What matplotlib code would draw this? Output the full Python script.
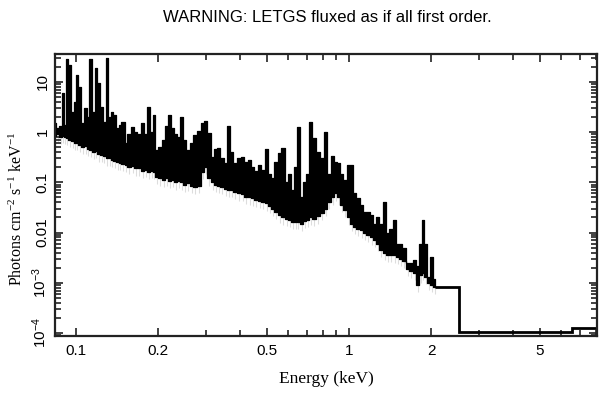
import matplotlib
matplotlib.use("Agg")
import matplotlib.pyplot as plt
from matplotlib.ticker import FixedLocator, FixedFormatter, NullFormatter

# bin energies (keV) of the dense LETGS part and the top / bottom of the trace
energy = [0.0838, 0.0859, 0.0881, 0.0896, 0.0911, 0.0927, 0.0951, 0.0975, 0.0992, 0.1009,
          0.1034, 0.1061, 0.1088, 0.1106, 0.1135, 0.1164, 0.1184, 0.1214, 0.1245, 0.1267,
          0.1299, 0.1332, 0.1355, 0.1390, 0.1425, 0.1449, 0.1487, 0.1525, 0.1563, 0.1617,
          0.1659, 0.1701, 0.1759, 0.1805, 0.1851, 0.1898, 0.1931, 0.1980, 0.2031, 0.2101,
          0.2154, 0.2210, 0.2266, 0.2324, 0.2384, 0.2445, 0.2507, 0.2572, 0.2660, 0.2728,
          0.2822, 0.2919, 0.2994, 0.3070, 0.3176, 0.3257, 0.3340, 0.3426, 0.3543, 0.3634,
          0.3727, 0.3823, 0.3954, 0.4090, 0.4195, 0.4339, 0.4450, 0.4564, 0.4721, 0.4842,
          0.5008, 0.5136, 0.5268, 0.5403, 0.5588, 0.5731, 0.5928, 0.6080, 0.6236, 0.6396,
          0.6505, 0.6728, 0.6900, 0.7077, 0.7259, 0.7445, 0.7700, 0.7964, 0.8236, 0.8447,
          0.8738, 0.8962, 0.9192, 0.9427, 0.9668, 1.0000, 1.0256, 1.0519, 1.0788, 1.1160,
          1.1445, 1.1739, 1.2140, 1.2451, 1.2770, 1.3097, 1.3547, 1.3894, 1.4250, 1.4740,
          1.5117, 1.5504, 1.5901, 1.6447, 1.6869, 1.7449, 1.7895, 1.8353, 1.8666, 1.9144,
          1.9634, 2.0137, 2.0654]
flux_hi = [1.5, 1.2, 1.3, 6.0, 1.4, 28, 22, 2.5, 4.0, 14,
           8.0, 1.5, 3.0, 2.0, 28, 2.5, 19, 9.5, 3.1, 1.6,
           30, 2.0, 2.5, 2.2, 1.2, 1.4, 1.6, 0.6, 0.9, 1.27,
           1.0, 0.9, 1.5, 0.9, 3.1, 1.0, 2.2, 0.44, 0.5, 0.7,
           1.3, 2.2, 1.2, 0.9, 0.8, 2.0, 0.7, 0.44, 0.6, 0.87,
           1.05, 1.5, 1.65, 0.95, 0.32, 0.46, 0.48, 0.3, 0.24, 1.3,
           0.4, 0.24, 0.3, 0.32, 0.25, 0.28, 0.2, 0.17, 0.22, 0.18,
           0.46, 0.15, 0.12, 0.25, 0.38, 0.48, 0.1, 0.15, 0.07, 0.2,
           1.27, 0.05, 0.1, 0.15, 1.6, 0.76, 0.4, 0.3, 1.0, 0.15,
           0.33, 0.25, 0.24, 0.15, 0.11, 0.22, 0.22, 0.06, 0.048, 0.035,
           0.026, 0.026, 0.022, 0.015, 0.02, 0.015, 0.04, 0.01, 0.012, 0.018,
           0.006, 0.006, 0.005, 0.0025, 0.0025, 0.0028, 0.0022, 0.006, 0.018, 0.006,
           0.0013, 0.0032, 0.0012]
flux_lo = [0.85, 0.9, 0.8, 0.85, 0.8, 0.78, 0.7, 0.68, 0.6, 0.62,
           0.55, 0.5, 0.52, 0.46, 0.45, 0.4, 0.42, 0.36, 0.35, 0.33,
           0.3, 0.3, 0.28, 0.27, 0.25, 0.24, 0.23, 0.22, 0.2, 0.21,
           0.19, 0.19, 0.17, 0.18, 0.16, 0.17, 0.16, 0.13, 0.12, 0.11,
           0.12, 0.105, 0.11, 0.1, 0.105, 0.1, 0.09, 0.095, 0.085, 0.08,
           0.085, 0.16, 0.2, 0.12, 0.1, 0.09, 0.085, 0.08, 0.075, 0.07,
           0.07, 0.065, 0.06, 0.058, 0.052, 0.05, 0.048, 0.045, 0.042, 0.04,
           0.038, 0.034, 0.03, 0.026, 0.022, 0.02, 0.019, 0.018, 0.016, 0.016,
           0.016, 0.015, 0.017, 0.018, 0.02, 0.019, 0.021, 0.025, 0.03, 0.04,
           0.05, 0.06, 0.05, 0.035, 0.028, 0.02, 0.015, 0.013, 0.012, 0.011,
           0.0097, 0.009, 0.008, 0.007, 0.006, 0.0045, 0.004, 0.0036, 0.0036, 0.0035,
           0.0033, 0.003, 0.0027, 0.0019, 0.0017, 0.0016, 0.0009, 0.0014, 0.0016, 0.0013,
           0.0010, 0.0009, 0.00082]

# wide high-energy bins (edges in keV) and their fluxes
wide_edges = [2.0654, 2.53, 6.56, 8.3]
wide_flux = [8.1e-4, 1.05e-4, 1.25e-4]

xtick_values = [0.1, 0.2, 0.5, 1, 2, 5]
xtick_labels = ['0.1', '0.2', '0.5', '1', '2', '5']
ytick_values = [1e-4, 1e-3, 0.01, 0.1, 1, 10]
ytick_labels = [r'$\mathregular{10^{-4}}$', r'$\mathregular{10^{-3}}$', '0.01', '0.1', '1', '10']

fig = plt.figure(figsize=(6.09, 3.99), dpi=100)
ax = fig.add_axes([55 / 609, 1 - 336 / 399, 542 / 609, 282 / 399])

# light grey error ticks under the trace
ax.vlines(energy, [v * 0.72 for v in flux_lo], flux_lo, color='#dddddd', lw=0.8, zorder=1)
ax.fill_between(energy, flux_lo, flux_hi, step='mid', facecolor='black',
                edgecolor='black', lw=0.9, zorder=2)
ax.stairs(wide_flux, wide_edges, color='black', lw=2, baseline=None, zorder=2)

ax.set_xscale('log')
ax.set_yscale('log')
ax.set_xlim(0.0838, 8.1)
ax.set_ylim(8.7e-5, 36)

ax.xaxis.set_major_locator(FixedLocator(xtick_values))
ax.xaxis.set_major_formatter(FixedFormatter(xtick_labels))
ax.xaxis.set_minor_locator(FixedLocator([0.3, 0.4, 0.6, 0.7, 0.8, 0.9, 3, 4, 6, 7, 8]))
ax.xaxis.set_minor_formatter(NullFormatter())
ax.yaxis.set_major_locator(FixedLocator(ytick_values))
ax.yaxis.set_major_formatter(FixedFormatter(ytick_labels))
ax.yaxis.set_minor_locator(FixedLocator([m * 10.0 ** e for e in range(-5, 2) for m in range(2, 10)]))
ax.yaxis.set_minor_formatter(NullFormatter())

ax.tick_params(which='both', direction='in', top=True, right=True, width=1.2, color='#222222')
ax.tick_params(which='major', length=6)
ax.tick_params(which='minor', length=4)
ax.tick_params(axis='x', labelsize=11, pad=6)
ax.tick_params(axis='y', labelsize=11, pad=4)
for lab in ax.get_xticklabels() + ax.get_yticklabels():
    lab.set_family('Liberation Sans')
for lab in ax.get_yticklabels():
    lab.set_rotation(90)
    lab.set_va('center')
for sp in ax.spines.values():
    sp.set_linewidth(1.6)
    sp.set_color('#222222')

ax.set_xlabel('Energy (keV)', family='Liberation Serif', fontsize=12.5, labelpad=9)
ax.set_ylabel(r'Photons cm$\mathregular{^{-2}}$ s$\mathregular{^{-1}}$ keV$\mathregular{^{-1}}$',
              family='Liberation Serif', fontsize=11.5)
ax.yaxis.set_label_coords(-0.053, 0.45)

fig.text(0.537, 1 - 18 / 399, 'WARNING: LETGS fluxed as if all first order.',
         family='Liberation Sans', fontsize=12, ha='center', va='center')

fig.savefig('out.png', dpi=100)
